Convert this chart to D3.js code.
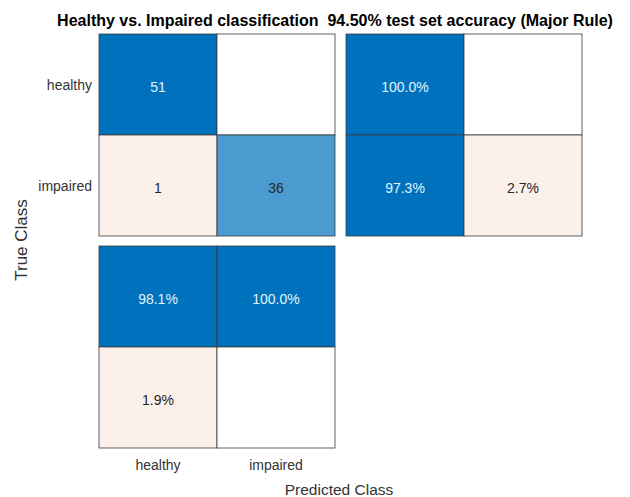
<!DOCTYPE html>
<html><head><meta charset="utf-8">
<script src="https://cdn.jsdelivr.net/npm/d3@7"></script>
<style>body{margin:0;background:#fff}svg{display:block}</style>
</head><body>
<script>
const classes = ["healthy", "impaired"];
// confusion counts: rows = true class, cols = predicted class
const counts = [[51, 0], [1, 36]];
// row summary (true class): correct %, incorrect %
const rowSummary = [[100.0, 0], [97.3, 2.7]];
// column summary (predicted class): row 0 = correct %, row 1 = incorrect %
const colSummary = [[98.1, 100.0], [1.9, 0]];
const title = "Healthy vs. Impaired classification  94.50% test set accuracy (Major Rule)";

const W = 630, H = 497;
const font = "Liberation Sans, Arial, sans-serif";
const svg = d3.select("body").append("svg").attr("width", W).attr("height", H)
  .style("font-family", font);

const blue = d3.color("#0072BD");
const maxDiag = d3.max(classes.map((c, i) => counts[i][i]));
const pink = "#FBF0EA";
function mix(c, t) { return d3.interpolateRgb("#ffffff", c)(t); }

// main matrix scales
const x = d3.scaleBand().domain(classes).range([99, 335]);
const y = d3.scaleBand().domain(classes).range([34, 236]);
// row summary
const xr = d3.scaleBand().domain(["correct", "incorrect"]).range([346, 582]);
// column summary
const yc = d3.scaleBand().domain(["correct", "incorrect"]).range([246, 448]);

function cell(g, x0, y0, w, h, fill, label, dark) {
  g.append("rect").attr("x", x0).attr("y", y0).attr("width", w).attr("height", h)
    .attr("fill", fill).attr("stroke", "#3a3a3a").attr("stroke-width", 0.8);
  if (label !== "") g.append("text").attr("x", x0 + w / 2).attr("y", y0 + h / 2 + 2)
    .attr("text-anchor", "middle").attr("dominant-baseline", "central")
    .attr("font-size", 14).attr("fill", dark ? "#E2F3FF" : "#262626").text(label);
}

const gm = svg.append("g");
classes.forEach((tc, i) => classes.forEach((pc, j) => {
  const v = counts[i][j];
  const isDiag = i === j;
  let fill = v === 0 ? "#ffffff" : isDiag ? mix(blue, v / maxDiag) : pink;
  if (isDiag && v === maxDiag) fill = blue.formatHex();
  cell(gm, x(pc), y(tc), x.bandwidth(), y.bandwidth(), fill, v === 0 ? "" : String(v), isDiag && v / maxDiag > 0.85);
}));

const gr = svg.append("g");
classes.forEach((tc, i) => ["correct", "incorrect"].forEach((k, j) => {
  const v = rowSummary[i][j];
  const fill = v === 0 ? "#ffffff" : (k === "correct" ? blue.formatHex() : pink);
  cell(gr, xr(k), y(tc), xr.bandwidth(), y.bandwidth(), fill, v === 0 ? "" : v.toFixed(1) + "%", k === "correct");
}));

const gc = svg.append("g");
["correct", "incorrect"].forEach((k, i) => classes.forEach((pc, j) => {
  const v = colSummary[i][j];
  const fill = v === 0 ? "#ffffff" : (k === "correct" ? blue.formatHex() : pink);
  cell(gc, x(pc), yc(k), x.bandwidth(), yc.bandwidth(), fill, v === 0 ? "" : v.toFixed(1) + "%", k === "correct");
}));

// axes (tick labels only)
const yAxis = d3.axisLeft(y).tickSize(0).tickPadding(7);
svg.append("g").attr("transform", "translate(99,1)").call(yAxis)
  .call(g => g.select(".domain").remove())
  .selectAll("text").attr("font-size", 14).attr("fill", "#333").attr("font-family", font);
const xAxis = d3.axisBottom(x).tickSize(0).tickPadding(12);
svg.append("g").attr("transform", "translate(0,448)").call(xAxis)
  .call(g => g.select(".domain").remove())
  .selectAll("text").attr("font-size", 14).attr("fill", "#333").attr("font-family", font);

svg.append("text").attr("x", 339).attr("y", 495).attr("text-anchor", "middle")
  .attr("font-size", 15.5).attr("fill", "#333").text("Predicted Class");
svg.append("text").attr("transform", "translate(27,240) rotate(-90)").attr("text-anchor", "middle")
  .attr("font-size", 17).attr("fill", "#333").text("True Class");
svg.append("text").attr("x", 335).attr("y", 26).attr("text-anchor", "middle")
  .style("white-space", "pre")
  .attr("font-size", 16).attr("font-weight", "bold").attr("fill", "#000").text(title);
</script>
</body></html>
